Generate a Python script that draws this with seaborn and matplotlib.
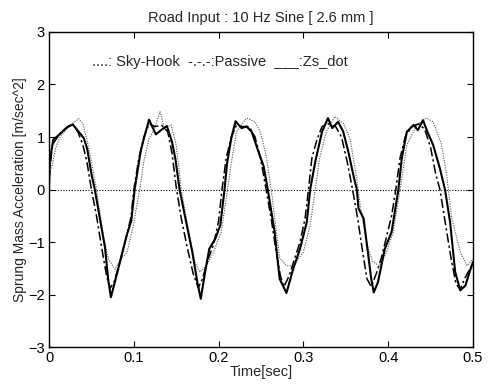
# plot.py
# Sprung mass acceleration for a 10 Hz sine road input (Sky-Hook vs Passive vs Zs_dot)

import numpy as np
import pandas as pd
import matplotlib
matplotlib.use("Agg")
import matplotlib.pyplot as plt
import seaborn as sns

# --- values ---
# Zs_dot (solid)
zs_t = [0.000, 0.001, 0.005, 0.011, 0.021, 0.028, 0.035, 0.041, 0.045, 0.050,
        0.054, 0.060, 0.066, 0.070, 0.073, 0.078, 0.084, 0.092, 0.097, 0.101,
        0.108, 0.112, 0.118, 0.126, 0.132, 0.139, 0.145, 0.149, 0.154, 0.161,
        0.169, 0.175, 0.179, 0.184, 0.189, 0.196, 0.202, 0.207, 0.210, 0.215,
        0.220, 0.227, 0.233, 0.239, 0.247, 0.253, 0.258, 0.266, 0.272, 0.280,
        0.288, 0.296, 0.304, 0.308, 0.314, 0.322, 0.329, 0.334, 0.341, 0.347,
        0.353, 0.359, 0.363, 0.365, 0.371, 0.375, 0.380, 0.383, 0.388, 0.396,
        0.404, 0.412, 0.416, 0.422, 0.430, 0.435, 0.441, 0.447, 0.453, 0.461,
        0.467, 0.473, 0.479, 0.485, 0.491, 0.496, 0.500]
zs_acc = [0.00, 0.55, 0.95, 1.03, 1.18, 1.24, 1.10, 0.98, 0.78, 0.30,
          0.00, -0.55, -1.10, -1.74, -2.05, -1.74, -1.36, -0.85, -0.60, 0.00,
          0.72, 0.98, 1.33, 1.05, 1.13, 1.21, 0.91, 0.59, 0.00, -0.56,
          -1.19, -1.77, -2.08, -1.58, -1.13, -0.94, -0.68, 0.00, 0.50, 0.98,
          1.30, 1.17, 1.20, 1.10, 0.72, 0.45, 0.00, -0.80, -1.70, -1.97,
          -1.51, -1.13, -0.62, 0.00, 0.53, 1.10, 1.36, 1.17, 1.29, 1.10,
          0.72, 0.27, 0.00, -0.36, -0.55, -1.06, -1.70, -1.96, -1.76, -1.13,
          -0.81, 0.00, 0.59, 1.10, 1.23, 1.13, 1.32, 1.07, 0.85, 0.40,
          0.00, -0.62, -1.57, -1.92, -1.83, -1.57, -1.38]

# Passive (dash-dot)
pas_t = [0.000, 0.004, 0.012, 0.022, 0.028, 0.034, 0.040, 0.045, 0.050, 0.056,
         0.062, 0.068, 0.072, 0.077, 0.084, 0.092, 0.097, 0.100, 0.106, 0.112,
         0.118, 0.125, 0.133, 0.140, 0.145, 0.150, 0.156, 0.163, 0.170, 0.176,
         0.181, 0.187, 0.194, 0.200, 0.204, 0.209, 0.215, 0.221, 0.228, 0.236,
         0.243, 0.250, 0.256, 0.262, 0.268, 0.273, 0.277, 0.283, 0.289, 0.296,
         0.302, 0.306, 0.310, 0.316, 0.322, 0.330, 0.338, 0.345, 0.352, 0.358,
         0.364, 0.370, 0.375, 0.380, 0.386, 0.392, 0.398, 0.404, 0.409, 0.414,
         0.420, 0.428, 0.436, 0.443, 0.450, 0.456, 0.461, 0.467, 0.474, 0.480,
         0.485, 0.490, 0.495, 0.500]
pas_acc = [0.20, 0.85, 1.05, 1.20, 1.25, 1.10, 0.85, 0.50, 0.00, -0.50,
           -1.10, -1.65, -1.88, -1.75, -1.35, -0.85, -0.50, 0.00, 0.60, 1.00,
           1.25, 1.20, 1.22, 1.10, 0.70, 0.05, -0.55, -1.10, -1.60, -1.87,
           -1.70, -1.35, -1.05, -0.60, 0.00, 0.60, 1.00, 1.22, 1.20, 1.20,
           1.00, 0.55, 0.00, -0.55, -1.20, -1.65, -1.85, -1.65, -1.35, -1.00,
           -0.55, 0.00, 0.60, 0.95, 1.20, 1.25, 1.20, 1.00, 0.50, 0.00,
           -0.55, -1.20, -1.70, -1.85, -1.60, -1.30, -0.90, -0.50, 0.00, 0.60,
           1.00, 1.20, 1.25, 1.15, 0.80, 0.30, 0.00, -0.60, -1.30, -1.80,
           -1.90, -1.70, -1.55, -1.40]

# Sky-Hook (dotted)
sky_t = [0.003, 0.008, 0.013, 0.023, 0.035, 0.040, 0.044, 0.050, 0.056, 0.064,
         0.070, 0.078, 0.084, 0.092, 0.099, 0.107, 0.112, 0.118, 0.124, 0.131,
         0.136, 0.144, 0.150, 0.156, 0.162, 0.172, 0.178, 0.186, 0.194, 0.203,
         0.209, 0.214, 0.221, 0.233, 0.243, 0.249, 0.256, 0.262, 0.272, 0.280,
         0.288, 0.300, 0.308, 0.314, 0.319, 0.327, 0.337, 0.347, 0.355, 0.363,
         0.367, 0.375, 0.382, 0.390, 0.398, 0.406, 0.414, 0.422, 0.434, 0.445,
         0.453, 0.463, 0.469, 0.475, 0.485, 0.493, 0.500]
sky_acc = [0.40, 0.80, 1.00, 1.19, 1.35, 1.25, 1.00, 0.55, 0.00, -0.87,
           -1.32, -1.52, -1.34, -1.20, -0.72, 0.00, 0.55, 0.97, 1.15, 1.48,
           1.17, 1.23, 0.85, 0.00, -0.56, -1.38, -1.57, -1.44, -1.19, -0.81,
           -0.17, 0.40, 1.10, 1.36, 1.29, 1.10, 0.66, 0.00, -1.30, -1.45,
           -1.45, -1.19, -0.68, 0.00, 0.59, 1.10, 1.39, 1.26, 0.97, 0.20,
           -0.30, -1.06, -1.38, -1.45, -1.19, -0.81, 0.00, 0.85, 1.23, 1.36,
           1.29, 0.85, 0.27, -0.55, -1.19, -1.45, -1.32]

x_ticks = [0, 0.1, 0.2, 0.3, 0.4, 0.5]
x_tick_labels = ["0", "0.1", "0.2", "0.3", "0.4", "0.5"]
y_ticks = [-3, -2, -1, 0, 1, 2, 3]

sky_df = pd.DataFrame({"t": sky_t, "acc": sky_acc})
pas_df = pd.DataFrame({"t": pas_t, "acc": pas_acc})
zs_df = pd.DataFrame({"t": zs_t, "acc": zs_acc})

sns.set_style("ticks")
plt.rcParams["font.family"] = ["Liberation Sans", "DejaVu Sans"]
plt.rcParams["xtick.direction"] = "in"
plt.rcParams["ytick.direction"] = "in"

fig = plt.figure(figsize=(4.93, 3.90), dpi=100)
ax = fig.add_axes([0.0994, 0.110, 0.860, 0.808])

# zero reference line
ax.axhline(0, color="black", linestyle=(0, (1, 1.5)), linewidth=0.8)

sns.lineplot(data=sky_df, x="t", y="acc", ax=ax, color="#555555",
             linestyle=(0, (1, 1.2)), linewidth=0.8, sort=False)
sns.lineplot(data=pas_df, x="t", y="acc", ax=ax, color="black",
             linestyle=(0, (6, 2, 1.5, 2)), linewidth=1.1, sort=False)
sns.lineplot(data=zs_df, x="t", y="acc", ax=ax, color="black",
             linestyle="-", linewidth=1.5, sort=False)

ax.set_xlim(0, 0.5)
ax.set_ylim(-3, 3)
ax.set_xticks(x_ticks)
ax.set_xticklabels(x_tick_labels)
ax.set_yticks(y_ticks)
ax.tick_params(axis="both", which="both", direction="in", length=4, width=0.8,
               top=True, right=True, labelsize=10.5, pad=3, colors="black")
for spine in ax.spines.values():
    spine.set_visible(True)
    spine.set_linewidth(1.0)
    spine.set_color("black")

ax.set_title("Road Input : 10 Hz Sine [ 2.6 mm ]", fontsize=10.5, pad=7)
ax.set_xlabel("Time[sec]", fontsize=10.5, labelpad=0)
ax.set_ylabel("Sprung Mass Acceleration [m/sec^2]", fontsize=10, labelpad=1)

ax.text(0.202, 2.43, "....: Sky-Hook  -.-.-:Passive  ___:Zs_dot",
        ha="center", va="center", fontsize=10.5)

fig.savefig("out.png", dpi=100)
